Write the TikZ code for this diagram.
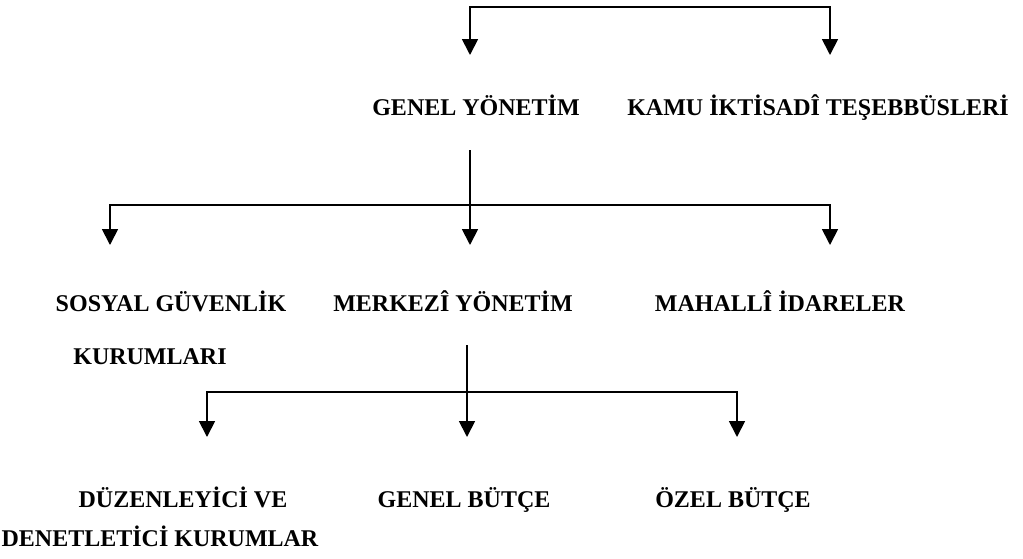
\documentclass[tikz,border=0pt]{standalone}
\usepackage{fontspec}
\setmainfont{Liberation Serif}
\usetikzlibrary{arrows.meta}
\begin{document}
\begin{tikzpicture}[x=1pt,y=-1pt,
  lbl/.style={font=\bfseries\fontsize{24}{28}\selectfont, inner sep=0pt, anchor=base},
  conn/.style={line width=1.8pt},
  tip/.tip={Triangle[width=16pt,length=16pt]},
  arr/.style={conn,-tip},
  arrs/.style={conn,tip-tip}]
\useasboundingbox (0,0) rectangle (1023,558);

% labels (positioned by their baselines)
\node[lbl] (gy)   at (476,115) {GENEL YÖNETİM};
\node[lbl] (kit)  at (818,115) {KAMU İKTİSADÎ TEŞEBBÜSLERİ};
\node[lbl] (sgk)  at (171,311) {SOSYAL GÜVENLİK};
\node[lbl] (sgk2) at (150,364) {KURUMLARI};
\node[lbl] (my)   at (453,311) {MERKEZÎ YÖNETİM};
\node[lbl] (mi)   at (780,311) {MAHALLÎ İDARELER};
\node[lbl] (dk)   at (183,507) {DÜZENLEYİCİ VE};
\node[lbl] (dk2)  at (160,546) {DENETLETİCİ KURUMLAR};
\node[lbl] (gb)   at (464,507) {GENEL BÜTÇE};
\node[lbl] (ob)   at (733,507) {ÖZEL BÜTÇE};

% top bracket
\coordinate (t0) at (650,7);
\coordinate (t1) at (470,55);
\coordinate (t2) at (830,55);
\draw[arrs] (t1) |- (t0) -| (t2);

% genel yonetim branches
\coordinate (g0) at (470,150);
\coordinate (gj) at (470,205);
\coordinate (g1) at (110,245);
\coordinate (g2) at (470,245);
\coordinate (g3) at (830,245);
\draw[arr] (g0) -- (g2);
\draw[arrs] (g1) |- (gj) -| (g3);

% merkezi yonetim branches
\coordinate (m0) at (467,345);
\coordinate (mj) at (467,392);
\coordinate (m1) at (207,437);
\coordinate (m2) at (467,437);
\coordinate (m3) at (737,437);
\draw[arr] (m0) -- (m2);
\draw[arrs] (m1) |- (mj) -| (m3);
\end{tikzpicture}
\end{document}
